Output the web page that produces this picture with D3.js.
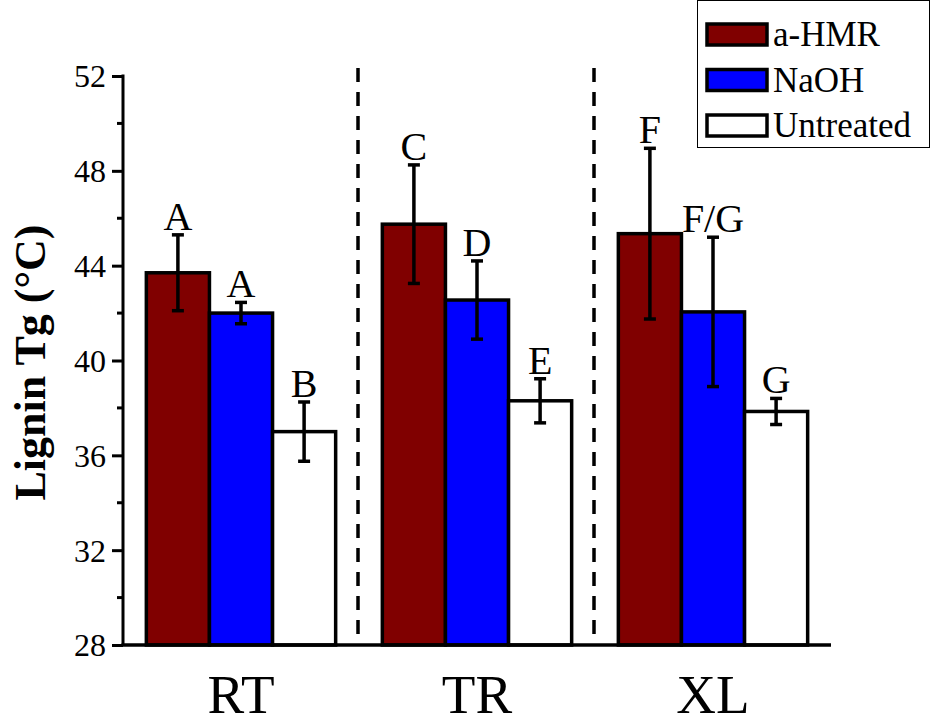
<!DOCTYPE html>
<html>
<head>
<meta charset="utf-8">
<script src="https://cdn.jsdelivr.net/npm/d3@7"></script>
<style>
  html, body { margin: 0; padding: 0; background: #fff; }
  svg text { font-family: "Liberation Serif", "Times New Roman", serif !important; fill: #000; }
</style>
</head>
<body>
<svg id="chart" width="932" height="726"></svg>
<script>
// Lignin glass transition temperature by wood species and treatment
const groups = ["RT", "TR", "XL"];
const treatments = ["a-HMR", "NaOH", "Untreated"];
const colors = ["#800000", "#0000ff", "#ffffff"];

// mean Tg (°C) per group, one array per treatment
const aHMR = [43.7, 45.75, 45.35];
const naOH = [42.0, 42.55, 42.05];
const untreated = [37.0, 38.3, 37.85];

// standard deviations
const aHMRErr = [1.6, 2.5, 3.6];
const naOHErr = [0.45, 1.65, 3.15];
const untreatedErr = [1.25, 0.93, 0.55];

// significance letters
const aHMRLetters = ["A", "C", "F"];
const naOHLetters = ["A", "D", "F/G"];
const untreatedLetters = ["B", "E", "G"];

const yTicks = [28, 32, 36, 40, 44, 48, 52];
const yMinorTicks = [30, 34, 38, 42, 46, 50];

const series = [
  { name: treatments[0], values: aHMR, errs: aHMRErr, letters: aHMRLetters, color: colors[0] },
  { name: treatments[1], values: naOH, errs: naOHErr, letters: naOHLetters, color: colors[1] },
  { name: treatments[2], values: untreated, errs: untreatedErr, letters: untreatedLetters, color: colors[2] }
];

const svg = d3.select("#chart");
const margin = { left: 123, top: 76, bottom: 81 };
const H = 726;

const y = d3.scaleLinear().domain([28, 52]).range([H - margin.bottom, margin.top]);
const x0 = d3.scaleBand().domain(groups).range([margin.left, 831]).paddingInner(0).paddingOuter(0);
const x1 = d3.scaleBand().domain(treatments).range([0, x0.bandwidth()]).paddingInner(0).paddingOuter(0.37);

// dashed separators between groups
svg.append("g").selectAll("line")
  .data(groups.slice(1))
  .join("line")
  .attr("x1", d => x0(d) - 1).attr("x2", d => x0(d) - 1)
  .attr("y1", 68).attr("y2", y(28))
  .attr("stroke", "#000").attr("stroke-width", 3.5)
  .attr("stroke-dasharray", "14,10");

// bars
const bars = [];
series.forEach(s => {
  groups.forEach((g, i) => {
    bars.push({ group: g, name: s.name, value: s.values[i], err: s.errs[i], letter: s.letters[i], color: s.color });
  });
});

svg.append("g").selectAll("rect")
  .data(bars)
  .join("rect")
  .attr("x", d => x0(d.group) + x1(d.name))
  .attr("y", d => y(d.value))
  .attr("width", x1.bandwidth())
  .attr("height", d => y(28) - y(d.value))
  .attr("fill", d => d.color)
  .attr("stroke", "#000")
  .attr("stroke-width", 3.5);

// error bars
const eb = svg.append("g").attr("stroke", "#000").attr("stroke-width", 3.5);
bars.forEach(d => {
  const cx = x0(d.group) + x1(d.name) + x1.bandwidth() / 2;
  const yt = y(d.value + d.err), yb = y(d.value - d.err);
  eb.append("line").attr("x1", cx).attr("x2", cx).attr("y1", yt).attr("y2", yb);
  eb.append("line").attr("x1", cx - 6).attr("x2", cx + 6).attr("y1", yt).attr("y2", yt);
  eb.append("line").attr("x1", cx - 6).attr("x2", cx + 6).attr("y1", yb).attr("y2", yb);
});

// significance letters above the error bars
svg.append("g").selectAll("text")
  .data(bars)
  .join("text")
  .attr("x", d => x0(d.group) + x1(d.name) + x1.bandwidth() / 2)
  .attr("y", d => y(d.value + d.err) - 5)
  .attr("text-anchor", "middle")
  .attr("font-size", 40)
  .text(d => d.letter);

// y axis
const yAxis = svg.append("g")
  .attr("transform", `translate(${margin.left},0)`)
  .call(d3.axisLeft(y).tickValues(yTicks).tickSize(11).tickPadding(6).tickFormat(d3.format("d")));
yAxis.select(".domain").attr("stroke-width", 3).attr("d", `M0,${y(52) - 1.5}V${y(28)}`);
yAxis.selectAll(".tick line").attr("stroke-width", 3);
yAxis.selectAll(".tick text").attr("font-size", 32).attr("dy", "0.34em");

svg.append("g")
  .attr("transform", `translate(${margin.left},0)`)
  .selectAll("line")
  .data(yMinorTicks)
  .join("line")
  .attr("x1", -6).attr("x2", 0)
  .attr("y1", d => y(d)).attr("y2", d => y(d))
  .attr("stroke", "#000").attr("stroke-width", 3);

// x axis baseline and group labels
svg.append("line")
  .attr("x1", margin.left - 1.5).attr("x2", 831)
  .attr("y1", y(28)).attr("y2", y(28))
  .attr("stroke", "#000").attr("stroke-width", 3.5);

svg.append("g").selectAll("text")
  .data(groups)
  .join("text")
  .attr("x", d => x0(d) + x0.bandwidth() / 2)
  .attr("y", 713)
  .attr("text-anchor", "middle")
  .attr("font-size", 55)
  .text(d => d);

// y axis title
svg.append("text")
  .attr("transform", `translate(45,${(y(28) + y(52)) / 2 + 2}) rotate(-90)`)
  .attr("text-anchor", "middle")
  .attr("font-size", 44)
  .attr("font-weight", "bold")
  .text("Lignin Tg (°C)");

// legend
const lg = svg.append("g");
lg.append("rect")
  .attr("x", 697.5).attr("y", 0.5).attr("width", 232).attr("height", 147)
  .attr("fill", "#fff").attr("stroke", "#000").attr("stroke-width", 1);
series.forEach((s, i) => {
  const cy = 34 + i * 45.5;
  lg.append("rect")
    .attr("x", 707).attr("y", cy - 10).attr("width", 60).attr("height", 21)
    .attr("fill", s.color).attr("stroke", "#000").attr("stroke-width", 3.5);
  lg.append("text")
    .attr("x", 773).attr("y", cy + 12)
    .attr("font-size", 35)
    .text(s.name);
});
</script>
</body>
</html>
